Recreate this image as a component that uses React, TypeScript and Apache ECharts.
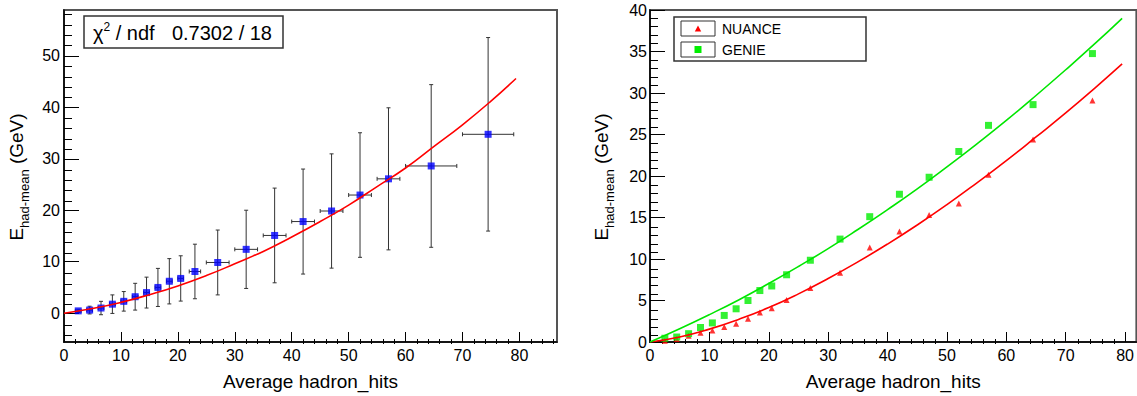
import React, { useEffect, useRef } from "react";
import * as echarts from "echarts";

// ---------- data ----------
const HITS = [2.5, 4.5, 6.5, 8.5, 10.5, 12.5, 14.5, 16.5, 18.5, 20.5, 23, 27, 32, 37, 42, 47, 52, 57, 64.5, 74.5];
const HITS_ERR = [0.5, 0.5, 0.5, 0.5, 0.5, 0.5, 0.5, 0.5, 0.5, 0.5, 1, 2, 2, 2, 2, 2, 2, 2, 4.5, 4.5];
const GENIE = [0.45, 0.6, 1.0, 1.75, 2.3, 3.2, 4.0, 5.0, 6.2, 6.75, 8.1, 9.85, 12.4, 15.1, 17.8, 19.85, 22.95, 26.1, 28.6, 34.75];
const GENIE_ERR = [0.3, 0.75, 1.3, 1.8, 1.9, 2.6, 3.0, 3.7, 4.4, 4.4, 5.3, 6.3, 7.6, 9.2, 10.2, 11.1, 12.1, 13.8, 15.8, 18.8];
const NUANCE = [0.15, 0.35, 0.75, 1.1, 1.4, 1.8, 2.2, 2.8, 3.55, 4.07, 5.07, 6.5, 8.35, 11.4, 13.3, 15.3, 16.7, 20.15, 24.4, 29.1];

// fitted curve on the left panel
const FIT_X = [0, 5, 10, 15, 20, 25, 30, 35, 40, 45, 50, 55, 60, 65, 70, 75, 79.4];
const FIT_LEFT = [0, 0.9, 2.1, 3.6, 5.3, 7.3, 9.6, 12.0, 14.8, 17.8, 21.0, 24.6, 28.2, 32.4, 36.6, 41.2, 45.6];
// fitted curves on the right panel
const CURVE_X = [0, 5, 10, 15, 20, 25, 30, 35, 40, 45, 50, 55, 60, 65, 70, 75, 79.5];
const CURVE_GENIE = [0, 1.6, 3.3, 5.1, 7.05, 9.1, 11.25, 13.55, 15.95, 18.45, 21.1, 23.85, 26.7, 29.7, 32.8, 36.0, 39.0];
const CURVE_NUANCE = [0, 0.6, 1.55, 2.75, 4.15, 5.8, 7.65, 9.65, 11.8, 14.1, 16.55, 19.15, 21.85, 24.7, 27.6, 30.65, 33.5];

// axis tick labels
const X_TICKS = [0, 10, 20, 30, 40, 50, 60, 70, 80];
const Y_TICKS_LEFT = [0, 10, 20, 30, 40, 50];
const Y_TICKS_RIGHT = [0, 5, 10, 15, 20, 25, 30, 35, 40];

const FONT = '"Liberation Sans", Arial, Helvetica, sans-serif';

function minorTicks(from: number, to: number, step: number, major: number): number[] {
  const out: number[] = [];
  for (let v = from; v <= to + 1e-9; v += step) {
    const r = Math.round(v * 1000) / 1000;
    if (Math.abs(r / major - Math.round(r / major)) > 1e-6) out.push(r);
  }
  return out;
}

export default function App() {
  const ref = useRef<HTMLDivElement>(null);

  useEffect(() => {
    if (!ref.current) return;
    const chart = echarts.init(ref.current, undefined, { renderer: "svg" });

    const LEFT_X = { min: 0, max: 86.6 };
    const LEFT_Y = { min: -5.6, max: 58.9 };
    const RIGHT_X = { min: 0, max: 81.9 };
    const RIGHT_Y = { min: 0, max: 40 };

    const mainX = (grid: number, range: any) => ({
      type: "value",
      gridIndex: grid,
      ...range,
      axisLine: { show: true, onZero: false, lineStyle: { color: "#000", width: 1.5 } },
      axisTick: { show: true, inside: true, length: 10, customValues: X_TICKS, lineStyle: { color: "#000", width: 1 } },
      axisLabel: { show: true, customValues: X_TICKS, fontSize: 16, color: "#000", margin: 5, fontFamily: FONT },
      splitLine: { show: false },
      name: "Average hadron_hits",
      nameLocation: "middle",
      nameGap: 30,
      nameTextStyle: { fontSize: 19, color: "#000", fontFamily: FONT },
    });
    const mainY = (grid: number, range: any, ticks: number[], margin: number) => ({
      type: "value",
      gridIndex: grid,
      ...range,
      axisLine: { show: true, onZero: false, lineStyle: { color: "#000", width: 1.5 } },
      axisTick: { show: true, inside: true, length: 15, customValues: ticks, lineStyle: { color: "#000", width: 1 } },
      axisLabel: { show: true, customValues: ticks, fontSize: 16, color: "#000", margin, fontFamily: FONT },
      splitLine: { show: false },
    });
    const minorAxis = (grid: number, range: any, ticks: number[], len: number) => ({
      type: "value",
      gridIndex: grid,
      ...range,
      axisLine: { show: false, onZero: false },
      axisTick: { show: true, inside: true, length: len, customValues: ticks, lineStyle: { color: "#000", width: 1 } },
      axisLabel: { show: false },
      splitLine: { show: false },
    });

    const errData = HITS.map((x, i) => [x, GENIE[i], HITS_ERR[i], GENIE_ERR[i]]);

    const yTitleRich = {
      e: { fontSize: 19, lineHeight: 28, fontFamily: FONT, color: "#000", verticalAlign: "middle" },
      s: { fontSize: 13, lineHeight: 13, fontFamily: FONT, color: "#000", verticalAlign: "bottom" },
    };

    const option: any = {
      animation: false,
      grid: [
        { left: 64, top: 10, width: 493, height: 334, show: true, borderColor: "#555", borderWidth: 2 },
        { left: 650, top: 10, width: 493, height: 334, show: true, borderColor: "#555", borderWidth: 2 },
        { left: 64, top: 10, width: 493, height: 334, show: false },
        { left: 650, top: 10, width: 493, height: 334, show: false },
      ],
      xAxis: [
        mainX(0, LEFT_X),
        mainX(1, RIGHT_X),
        minorAxis(2, LEFT_X, minorTicks(0, 86, 2, 10), 5),
        minorAxis(3, RIGHT_X, minorTicks(0, 81, 2, 10), 5),
      ],
      yAxis: [
        mainY(0, LEFT_Y, Y_TICKS_LEFT, 4),
        mainY(1, RIGHT_Y, Y_TICKS_RIGHT, 3),
        minorAxis(2, LEFT_Y, minorTicks(-4, 58, 2, 10), 8),
        minorAxis(3, RIGHT_Y, minorTicks(0, 40, 1, 5), 8),
      ],
      series: [
        {
          type: "custom",
          xAxisIndex: 0,
          yAxisIndex: 0,
          data: errData,
          encode: { x: 0, y: 1 },
          z: 2,
          renderItem: (params: any, api: any) => {
            const x = api.value(0);
            const y = api.value(1);
            const ex = api.value(2);
            const ey = api.value(3);
            const c = api.coord([x, y]);
            const l = api.coord([x - ex, y]);
            const r = api.coord([x + ex, y]);
            const t = api.coord([x, y + ey]);
            const b = api.coord([x, y - ey]);
            const st = { stroke: "#333", lineWidth: 1 };
            const cap = 2;
            return {
              type: "group",
              children: [
                { type: "line", shape: { x1: l[0], y1: c[1], x2: r[0], y2: c[1] }, style: st },
                { type: "line", shape: { x1: c[0], y1: t[1], x2: c[0], y2: b[1] }, style: st },
                { type: "line", shape: { x1: c[0] - cap, y1: t[1], x2: c[0] + cap, y2: t[1] }, style: st },
                { type: "line", shape: { x1: c[0] - cap, y1: b[1], x2: c[0] + cap, y2: b[1] }, style: st },
                { type: "line", shape: { x1: l[0], y1: c[1] - cap, x2: l[0], y2: c[1] + cap }, style: st },
                { type: "line", shape: { x1: r[0], y1: c[1] - cap, x2: r[0], y2: c[1] + cap }, style: st },
              ],
            };
          },
        },
        {
          type: "scatter",
          xAxisIndex: 0,
          yAxisIndex: 0,
          data: HITS.map((x, i) => [x, GENIE[i]]),
          symbol: "rect",
          symbolSize: 7,
          itemStyle: { color: "#0000ff" },
          z: 3,
        },
        {
          type: "line",
          xAxisIndex: 0,
          yAxisIndex: 0,
          data: FIT_X.map((x, i) => [x, FIT_LEFT[i]]),
          showSymbol: false,
          smooth: true,
          lineStyle: { color: "#ff0000", width: 1.6 },
          z: 4,
        },
        {
          type: "scatter",
          name: "NUANCE",
          xAxisIndex: 1,
          yAxisIndex: 1,
          data: HITS.map((x, i) => [x, NUANCE[i]]),
          symbol: "triangle",
          symbolSize: 6,
          itemStyle: { color: "#ff0000" },
          z: 3,
        },
        {
          type: "scatter",
          name: "GENIE",
          xAxisIndex: 1,
          yAxisIndex: 1,
          data: HITS.map((x, i) => [x, GENIE[i]]),
          symbol: "rect",
          symbolSize: 7,
          itemStyle: { color: "#00ee00" },
          z: 3,
        },
        {
          type: "line",
          xAxisIndex: 1,
          yAxisIndex: 1,
          data: CURVE_X.map((x, i) => [x, CURVE_NUANCE[i]]),
          showSymbol: false,
          smooth: true,
          lineStyle: { color: "#ff0000", width: 1.6 },
          z: 4,
        },
        {
          type: "line",
          xAxisIndex: 1,
          yAxisIndex: 1,
          data: CURVE_X.map((x, i) => [x, CURVE_GENIE[i]]),
          showSymbol: false,
          smooth: true,
          lineStyle: { color: "#00e600", width: 1.6 },
          z: 4,
        },
      ],
      graphic: [
        // y-axis titles
        {
          type: "text",
          x: 16.5,
          y: 177,
          rotation: Math.PI / 2,
          style: {
            text: "{e|E}{s|had-mean}{e| (GeV)}",
            rich: yTitleRich,
            align: "center",
            verticalAlign: "middle",
          },
        },
        {
          type: "text",
          x: 601.5,
          y: 177,
          rotation: Math.PI / 2,
          style: {
            text: "{e|E}{s|had-mean}{e| (GeV)}",
            rich: yTitleRich,
            align: "center",
            verticalAlign: "middle",
          },
        },
        // stats box (left)
        {
          type: "rect",
          shape: { x: 84, y: 16, width: 199, height: 32 },
          style: { fill: "#fff", stroke: "#333", lineWidth: 1.5 },
          z: 10,
        },
        {
          type: "text",
          x: 93,
          y: 33,
          z: 11,
          style: {
            text: "{a|χ}{s|2}{a| / ndf}",
            rich: {
              a: { fontSize: 20, lineHeight: 24, fontFamily: FONT, color: "#000", verticalAlign: "middle" },
              s: { fontSize: 12, lineHeight: 14, fontFamily: FONT, color: "#000", verticalAlign: "top" },
            },
            verticalAlign: "middle",
          },
        },
        {
          type: "text",
          x: 272,
          y: 33,
          z: 11,
          style: { text: "0.7302 / 18", fontSize: 20, fontFamily: FONT, fill: "#000", align: "right", verticalAlign: "middle" },
        },
        // legend (right)
        {
          type: "rect",
          shape: { x: 674, y: 17, width: 192, height: 44 },
          style: { fill: "#fff", stroke: "#333", lineWidth: 1.5 },
          z: 10,
        },
        {
          type: "rect",
          shape: { x: 681, y: 21, width: 34, height: 15 },
          style: { fill: "none", stroke: "#333", lineWidth: 1 },
          z: 11,
        },
        {
          type: "rect",
          shape: { x: 681, y: 42, width: 34, height: 15 },
          style: { fill: "none", stroke: "#333", lineWidth: 1 },
          z: 11,
        },
        {
          type: "polygon",
          shape: { points: [[698, 25.5], [701.2, 31.5], [694.8, 31.5]] },
          style: { fill: "#ff0000" },
          z: 11,
        },
        {
          type: "rect",
          shape: { x: 694.5, y: 46, width: 7, height: 7 },
          style: { fill: "#00ee00" },
          z: 11,
        },
        {
          type: "text",
          x: 722,
          y: 28.5,
          z: 11,
          style: { text: "NUANCE", fontSize: 14, fontFamily: FONT, fill: "#000", verticalAlign: "middle" },
        },
        {
          type: "text",
          x: 722,
          y: 49.5,
          z: 11,
          style: { text: "GENIE", fontSize: 14, fontFamily: FONT, fill: "#000", verticalAlign: "middle" },
        },
      ],
    };

    chart.setOption(option);
    return () => chart.dispose();
  }, []);

  return (
    <div
      ref={ref}
      style={{ position: "fixed", left: 0, top: 0, width: 1137, height: 396, background: "#fff", overflow: "hidden" }}
    />
  );
}
